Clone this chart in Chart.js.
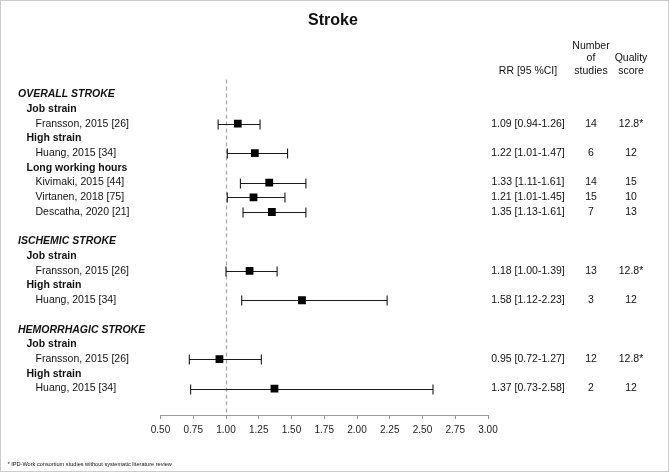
<!DOCTYPE html>
<html>
<head>
<meta charset="utf-8">
<script src="https://cdn.jsdelivr.net/npm/chart.js@4.4.1/dist/chart.umd.min.js"></script>
<style>
html,body{margin:0;padding:0;background:#fff;}
canvas{display:block;}
</style>
</head>
<body>
<canvas id="c" width="669" height="472"></canvas>
<script>
// ---- data ----
const chartTitle = 'Stroke';
const rowLabels = [
  'OVERALL STROKE','Job strain','Fransson, 2015 [26]','High strain','Huang, 2015 [34]',
  'Long working hours','Kivimaki, 2015 [44]','Virtanen, 2018 [75]','Descatha, 2020 [21]','',
  'ISCHEMIC STROKE','Job strain','Fransson, 2015 [26]','High strain','Huang, 2015 [34]','',
  'HEMORRHAGIC STROKE','Job strain','Fransson, 2015 [26]','High strain','Huang, 2015 [34]'
];
const rowLevels = [0,1,2,1,2,1,2,2,2,-1,0,1,2,1,2,-1,0,1,2,1,2];
const studyRR  = [1.09,1.22,1.33,1.21,1.35,1.18,1.58,0.95,1.37];
const studyLo  = [0.94,1.01,1.11,1.01,1.13,1.00,1.12,0.72,0.73];
const studyHi  = [1.26,1.47,1.61,1.45,1.61,1.39,2.23,1.27,2.58];
const nStudies = [14,6,14,15,7,13,3,12,2];
const quality  = ['12.8*','12','15','10','13','12.8*','12','12.8*','12'];
const xTicks   = [0.50,0.75,1.00,1.25,1.50,1.75,2.00,2.25,2.50,2.75,3.00];
const refValue = 1.00;
const headerRR = 'RR [95 %CI]';
const headerN  = ['Number','of','studies'];
const headerQ  = ['Quality','score'];
const footnote = '* IPD-Work consortium studies without systematic literature review';

// row index of each study
const studyRows = [];
rowLevels.forEach((l,i)=>{ if(l===2) studyRows.push(i); });

const points = studyRR.map((v,i)=>({x:v, y:studyRows[i]}));

const FONT = "'Liberation Sans', Arial, Helvetica, sans-serif";

const forestPlugin = {
  id:'forest',
  beforeDraw(chart){
    const ctx = chart.ctx;
    ctx.save();
    ctx.fillStyle = '#fff';
    ctx.fillRect(0,0,chart.width,chart.height);
    ctx.restore();
  },
  beforeDatasetsDraw(chart){
    const ctx = chart.ctx, xs = chart.scales.x, ys = chart.scales.y;
    ctx.save();
    // reference line
    const rx = Math.round(xs.getPixelForValue(refValue)) + 0.5;
    ctx.strokeStyle = '#aaaaaa';
    ctx.lineWidth = 1.3;
    ctx.setLineDash([4,3]);
    ctx.beginPath();
    ctx.moveTo(rx, ys.getPixelForValue(-1));
    ctx.lineTo(rx, chart.chartArea.bottom);
    ctx.stroke();
    ctx.setLineDash([]);
    // CI whiskers
    ctx.strokeStyle = '#1a1a1a';
    ctx.lineWidth = 1.1;
    studyRR.forEach((v,i)=>{
      const y = Math.round(ys.getPixelForValue(studyRows[i])) + 0.5;
      const x1 = xs.getPixelForValue(studyLo[i]);
      const x2 = xs.getPixelForValue(studyHi[i]);
      ctx.beginPath();
      ctx.moveTo(x1,y); ctx.lineTo(x2,y);
      ctx.moveTo(x1,y-5); ctx.lineTo(x1,y+5);
      ctx.moveTo(x2,y-5); ctx.lineTo(x2,y+5);
      ctx.stroke();
    });
    ctx.restore();
  },
  afterDraw(chart){
    const ctx = chart.ctx, ys = chart.scales.y;
    ctx.save();
    ctx.fillStyle = '#111';
    ctx.textBaseline = 'middle';
    // title
    ctx.font = 'bold 16px ' + FONT;
    ctx.textAlign = 'center';
    ctx.fillText(chartTitle, 333, 20.5);
    // headers
    ctx.font = '10.5px ' + FONT;
    ctx.fillText(headerRR, 528, 71);
    headerN.forEach((t,i)=>ctx.fillText(t, 591, 46 + i*12.4));
    headerQ.forEach((t,i)=>ctx.fillText(t, 631, 58.4 + i*12.4));
    // row labels
    ctx.textAlign = 'left';
    rowLabels.forEach((t,i)=>{
      const l = rowLevels[i];
      if(l<0) return;
      const y = ys.getPixelForValue(i);
      if(l===0){ ctx.font = 'italic bold 10.5px ' + FONT; ctx.fillText(t, 18, y); }
      else if(l===1){ ctx.font = 'bold 10.5px ' + FONT; ctx.fillText(t, 26.5, y); }
      else { ctx.font = '10.5px ' + FONT; ctx.fillText(t, 35.5, y); }
    });
    // columns
    ctx.font = '10.5px ' + FONT;
    ctx.textAlign = 'center';
    studyRR.forEach((v,i)=>{
      const y = ys.getPixelForValue(studyRows[i]);
      ctx.fillText(v.toFixed(2)+' ['+studyLo[i].toFixed(2)+'-'+studyHi[i].toFixed(2)+']', 528, y);
      ctx.fillText(String(nStudies[i]), 591, y);
      ctx.fillText(quality[i], 631, y);
    });
    // footnote
    ctx.textAlign = 'left';
    ctx.font = '5.6px ' + FONT;
    ctx.fillText(footnote, 7.5, 464);
    // frame
    ctx.strokeStyle = '#cccccc';
    ctx.lineWidth = 1;
    ctx.strokeRect(0.5,0.5,chart.width-1,chart.height-1);
    ctx.restore();
  }
};

new Chart(document.getElementById('c'), {
  type:'scatter',
  data:{ datasets:[{
    data: points,
    pointStyle:'rect',
    pointRadius:5.5,
    pointHoverRadius:5.5,
    backgroundColor:'#000',
    borderColor:'#000',
    borderWidth:0
  }]},
  options:{
    responsive:false,
    animation:false,
    events:[],
    layout:{ padding:{ top:79.6, left:160.5, right:181, bottom:0 } },
    plugins:{ legend:{display:false}, tooltip:{enabled:false}, title:{display:false} },
    scales:{
      x:{
        type:'linear', min:0.5, max:3.0,
        afterBuildTicks: s => { s.ticks = xTicks.map(v=>({value:v})); },
        afterFit: s => { s.height = 57; },
        grid:{ drawOnChartArea:false, drawTicks:true, tickLength:4, color:'#999' },
        border:{ display:true, color:'#999', width:1 },
        ticks:{ color:'#222', padding:5, maxRotation:0, autoSkip:false,
                font:{ family:FONT, size:10 },
                callback: v => Number(v).toFixed(2) }
      },
      y:{
        type:'linear', reverse:true, min:-1, max:21.8, display:false
      }
    }
  },
  plugins:[forestPlugin]
});
</script>
</body>
</html>
